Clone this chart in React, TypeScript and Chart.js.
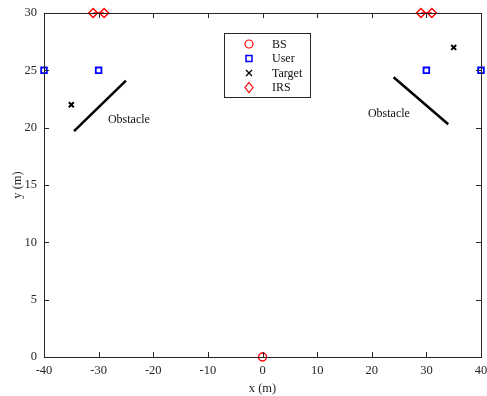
import React, { useEffect, useRef } from "react";
import { Chart, registerables } from "chart.js";
Chart.register(...registerables);

const bsX = [0];
const bsY = [0];
const userX = [-40, -30, 30, 40];
const userY = [25, 25, 25, 25];
const targetX = [-35, 35];
const targetY = [22, 27];
const irsLeftX = [-31, -29];
const irsLeftY = [30, 30];
const irsRightX = [29, 31];
const irsRightY = [30, 30];
const obstacleLeftX = [-34.5, -25];
const obstacleLeftY = [19.7, 24.1];
const obstacleRightX = [24, 34];
const obstacleRightY = [24.4, 20.3];
const obstacleLabelX = [-28.3, 19.3];
const obstacleLabelY = [20.7, 21.2];
const obstacleLabelText = ["Obstacle", "Obstacle"];
const xTicks = [-40, -30, -20, -10, 0, 10, 20, 30, 40];
const yTicks = [0, 5, 10, 15, 20, 25, 30];
const legendLabels = ["BS", "User", "Target", "IRS"];

const pts = (xs: number[], ys: number[]) => xs.map((x, i) => ({ x, y: ys[i] }));

const AX = "#262626";
const FONT = "'Liberation Serif', 'DejaVu Serif', serif";

const overlayPlugin = {
  id: "overlay",
  afterDatasetsDraw(chart: any) {
    const { ctx, chartArea: a, scales } = chart;
    const xs = scales.x;
    const ys = scales.y;
    ctx.save();
    ctx.strokeStyle = AX;
    ctx.lineWidth = 1;
    ctx.strokeRect(Math.round(a.left) + 0.5, Math.round(a.top) + 0.5, Math.round(a.right - a.left), Math.round(a.bottom - a.top));
    const tl = 5;
    ctx.beginPath();
    xTicks.forEach((v) => {
      const px = Math.round(xs.getPixelForValue(v)) + 0.5;
      ctx.moveTo(px, a.bottom);
      ctx.lineTo(px, a.bottom - tl);
      ctx.moveTo(px, a.top);
      ctx.lineTo(px, a.top + tl);
    });
    yTicks.forEach((v) => {
      const py = Math.round(ys.getPixelForValue(v)) + 0.5;
      ctx.moveTo(a.left, py);
      ctx.lineTo(a.left + tl, py);
      ctx.moveTo(a.right, py);
      ctx.lineTo(a.right - tl, py);
    });
    ctx.stroke();
    ctx.fillStyle = "#111";
    ctx.font = `12px ${FONT}`;
    ctx.textAlign = "left";
    ctx.textBaseline = "middle";
    obstacleLabelText.forEach((t, i) => {
      ctx.fillText(t, xs.getPixelForValue(obstacleLabelX[i]), ys.getPixelForValue(obstacleLabelY[i]));
    });
    ctx.restore();
  },
  afterDraw(chart: any) {
    const { ctx } = chart;
    ctx.save();
    const bx = 224.5, by = 33.5, bw = 86, bh = 64;
    ctx.fillStyle = "#fff";
    ctx.fillRect(bx, by, bw, bh);
    ctx.strokeStyle = AX;
    ctx.lineWidth = 1;
    ctx.strokeRect(bx, by, bw, bh);
    const mx = 249;
    const rows = [44, 58.5, 73, 87.5];
    ctx.font = `12px ${FONT}`;
    ctx.textBaseline = "middle";
    ctx.textAlign = "left";
    rows.forEach((ry, i) => {
      ctx.lineWidth = 1.2;
      if (i === 0) {
        ctx.strokeStyle = "#ff0000";
        ctx.beginPath();
        ctx.arc(mx, ry, 4, 0, Math.PI * 2);
        ctx.stroke();
      } else if (i === 1) {
        ctx.strokeStyle = "#0000ff";
        ctx.lineWidth = 1.5;
        ctx.strokeRect(mx - 3, ry - 3, 6, 6);
      } else if (i === 2) {
        ctx.strokeStyle = "#000";
        ctx.lineWidth = 1.3;
        ctx.beginPath();
        ctx.moveTo(mx - 3, ry - 3);
        ctx.lineTo(mx + 3, ry + 3);
        ctx.moveTo(mx + 3, ry - 3);
        ctx.lineTo(mx - 3, ry + 3);
        ctx.stroke();
      } else {
        ctx.strokeStyle = "#ff0000";
        ctx.beginPath();
        ctx.moveTo(mx, ry - 5);
        ctx.lineTo(mx + 4, ry);
        ctx.lineTo(mx, ry + 5);
        ctx.lineTo(mx - 4, ry);
        ctx.closePath();
        ctx.stroke();
      }
      ctx.fillStyle = "#111";
      ctx.fillText(legendLabels[i], 272, ry + 0.5);
    });
    ctx.restore();
  },
};

export default function App() {
  const ref = useRef<HTMLCanvasElement>(null);
  useEffect(() => {
    if (!ref.current) return;
    const chart = new Chart(ref.current, {
      type: "scatter",
      data: {
        datasets: [
          {
            label: "Obstacle L",
            data: pts(obstacleLeftX, obstacleLeftY),
            showLine: true,
            borderColor: "#000",
            borderWidth: 2.5,
            pointRadius: 0,
          },
          {
            label: "Obstacle R",
            data: pts(obstacleRightX, obstacleRightY),
            showLine: true,
            borderColor: "#000",
            borderWidth: 2.5,
            pointRadius: 0,
          },
          {
            label: "IRS L",
            data: pts(irsLeftX, irsLeftY),
            showLine: true,
            borderColor: "#ff0000",
            borderWidth: 1.5,
            pointStyle: "rectRot",
            pointRadius: 4.5,
            pointBorderWidth: 1.5,
            pointBorderColor: "#ff0000",
            pointBackgroundColor: "rgba(0,0,0,0)",
          },
          {
            label: "IRS R",
            data: pts(irsRightX, irsRightY),
            showLine: true,
            borderColor: "#ff0000",
            borderWidth: 1.5,
            pointStyle: "rectRot",
            pointRadius: 4.5,
            pointBorderWidth: 1.5,
            pointBorderColor: "#ff0000",
            pointBackgroundColor: "rgba(0,0,0,0)",
          },
          {
            label: "User",
            data: pts(userX, userY),
            pointStyle: "rect",
            pointRadius: 4,
            pointBorderWidth: 1.8,
            pointBorderColor: "#0000ff",
            pointBackgroundColor: "rgba(0,0,0,0)",
          },
          {
            label: "Target",
            data: pts(targetX, targetY),
            pointStyle: "crossRot",
            pointRadius: 3.5,
            pointBorderWidth: 2,
            pointBorderColor: "#000",
          },
          {
            label: "BS",
            data: pts(bsX, bsY),
            pointStyle: "circle",
            pointRadius: 4,
            pointBorderWidth: 1.5,
            pointBorderColor: "#ff0000",
            pointBackgroundColor: "rgba(0,0,0,0)",
          },
        ] as any,
      },
      options: {
        animation: false,
        responsive: false,
        maintainAspectRatio: false,
        layout: { padding: { top: 13, right: 6, left: 0, bottom: 0 } },
        elements: { point: { hoverRadius: 4 } },
        plugins: { legend: { display: false }, tooltip: { enabled: false } },
        datasets: { scatter: { clip: false } as any },
        scales: {
          x: {
            type: "linear",
            min: -40,
            max: 40,
            afterBuildTicks: (s: any) => {
              s.ticks = xTicks.map((v) => ({ value: v }));
            },
            afterFit: (s: any) => {
              s.height = 39;
              s.paddingLeft = 0;
              s.paddingRight = 0;
            },
            grid: { display: false, drawTicks: false },
            border: { display: false },
            ticks: { color: AX, font: { family: FONT, size: 12.5 }, padding: 6, maxRotation: 0 },
            title: { display: true, text: "x (m)", color: AX, font: { family: FONT, size: 12.5 }, padding: { top: 0, bottom: 0 } },
          },
          y: {
            type: "linear",
            min: 0,
            max: 30,
            afterBuildTicks: (s: any) => {
              s.ticks = yTicks.map((v) => ({ value: v }));
            },
            afterFit: (s: any) => {
              s.width = 44;
              s.paddingTop = 0;
              s.paddingBottom = 0;
            },
            grid: { display: false, drawTicks: false },
            border: { display: false },
            ticks: { color: AX, font: { family: FONT, size: 12.5 }, padding: 7 },
            title: { display: true, text: "y (m)", color: AX, font: { family: FONT, size: 12.5 }, padding: { top: 10, bottom: 0 } },
          },
        },
      },
      plugins: [overlayPlugin],
    });
    return () => chart.destroy();
  }, []);
  return (
    <div style={{ position: "fixed", left: 0, top: 0, width: 487, height: 396, background: "#fff" }}>
      <canvas ref={ref} width={487} height={396} style={{ width: 487, height: 396 }} />
    </div>
  );
}
